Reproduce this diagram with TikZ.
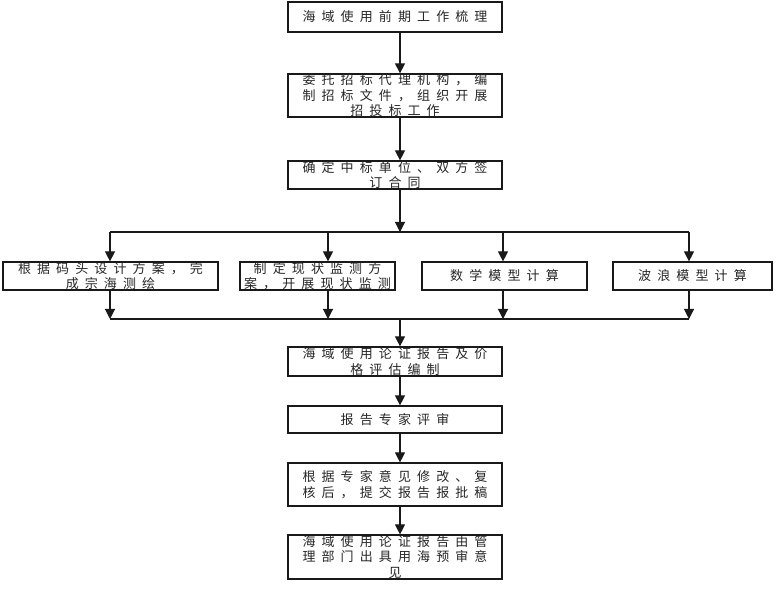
\documentclass[tikz,border=0pt]{standalone}
\usepackage{fontspec}
\setmainfont{Noto Sans CJK SC}[LetterSpace=47]
\usetikzlibrary{arrows.meta}
\begin{document}
\begin{tikzpicture}[x=1pt,y=-1pt,
  box/.style={draw=black!90, line width=1.2pt, inner sep=0pt, align=center,
    font=\fontsize{13}{15.5}\selectfont, text=black!85},
  arr/.style={draw=black!90, line width=1.1pt, -{Triangle[width=10pt,length=10pt]}},
  ln/.style={draw=black!90, line width=1.1pt}]
\useasboundingbox (0,0) rectangle (781,593);
% spine and branch columns
\coordinate (sp) at (400,0);
\coordinate (xA) at (110,0);
\coordinate (xB) at (328,0);
\coordinate (xC) at (503,0);
\coordinate (xD) at (689,0);
\coordinate (j1) at (400,232);
\coordinate (j2) at (400,319);
% main column
\node[box, minimum width=214pt, minimum height=30pt] (b1) at (395,17) {海域使用前期工作梳理};
\node[box, minimum width=214pt, minimum height=43pt] (b2) at (395,95.5) {委托招标代理机构，编\\制招标文件，组织开展\\招投标工作};
\node[box, minimum width=214pt, minimum height=28pt] (b3) at (395,175) {确定中标单位、双方签\\订合同};
% branches
\node[box, minimum width=215pt, minimum height=28pt] (bA) at (110.5,276) {根据码头设计方案，完\\成宗海测绘};
\node[box, minimum width=155pt, minimum height=28pt] (bB) at (317.5,276) {制定现状监测方\\案，开展现状监测};
\node[box, minimum width=165pt, minimum height=28pt] (bC) at (504.5,276) {数学模型计算};
\node[box, minimum width=159pt, minimum height=28pt] (bD) at (692.5,276) {波浪模型计算};
% lower column
\node[box, minimum width=214pt, minimum height=29pt] (b4) at (395,361.5) {海域使用论证报告及价\\格评估编制};
\node[box, minimum width=214pt, minimum height=27pt] (b5) at (395,419.5) {报告专家评审};
\node[box, minimum width=214pt, minimum height=43pt] (b6) at (395,484.5) {根据专家意见修改、复\\核后，提交报告报批稿};
\node[box, minimum width=214pt, minimum height=44pt] (b7) at (395,557) {海域使用论证报告由管\\理部门出具用海预审意\\见};
% connectors
\draw[arr] (b1.south -| sp) -- (b2.north -| sp);
\draw[arr] (b2.south -| sp) -- (b3.north -| sp);
\draw[arr] (b3.south -| sp) -- (j1);
\draw[ln] (j1 -| xA) -- (j1 -| xD);
\draw[arr] (j1 -| xA) -- (bA.north -| xA);
\draw[arr] (j1 -| xB) -- (bB.north -| xB);
\draw[arr] (j1 -| xC) -- (bC.north -| xC);
\draw[arr] (j1 -| xD) -- (bD.north -| xD);
\draw[arr] (bA.south -| xA) -- (j2 -| xA);
\draw[arr] (bB.south -| xB) -- (j2 -| xB);
\draw[arr] (bC.south -| xC) -- (j2 -| xC);
\draw[arr] (bD.south -| xD) -- (j2 -| xD);
\draw[ln] (j2 -| xA) -- (j2 -| xD);
\draw[arr] (j2) -- (b4.north -| sp);
\draw[arr] (b4.south -| sp) -- (b5.north -| sp);
\draw[arr] (b5.south -| sp) -- (b6.north -| sp);
\draw[arr] (b6.south -| sp) -- (b7.north -| sp);
\end{tikzpicture}
\end{document}
